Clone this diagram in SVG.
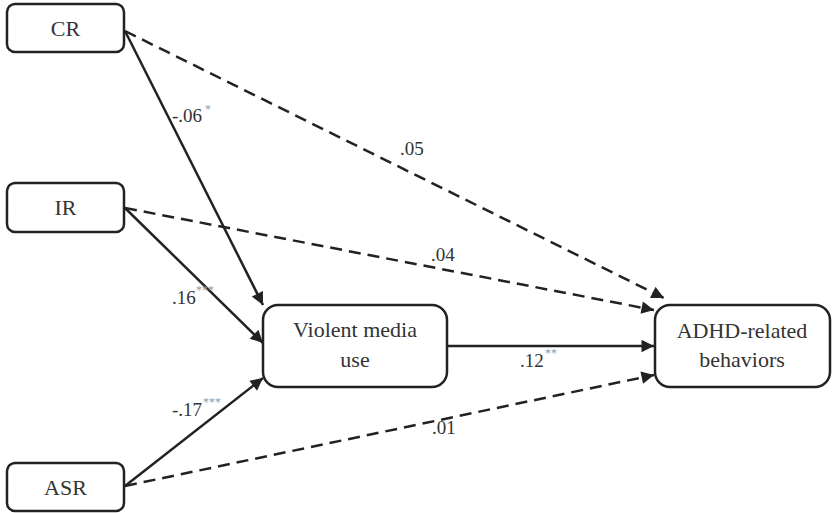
<svg xmlns="http://www.w3.org/2000/svg" width="833" height="513" viewBox="0 0 833 513">
<style>
.box{fill:#fff;stroke:#222;stroke-width:2.5}
.t{font-size:22px;fill:#333;text-anchor:middle}
.l{font-size:19px;fill:#333}
.s{font-size:12px;fill:#999}
.e{fill:none;stroke:#222;stroke-width:2.5}
.d{stroke-dasharray:12 7}
</style>
<defs>
<marker id="ah" viewBox="0 0 10 10" refX="10" refY="5" markerWidth="5.5" markerHeight="5" markerUnits="strokeWidth" orient="auto">
<path d="M0,0 L10,5 L0,10 z" fill="#222"/>
</marker>
</defs>
<g id="connectors">
<line class="e" x1="125" y1="31" x2="263" y2="305" marker-end="url(#ah)"/>
<line class="e" x1="125" y1="208" x2="263" y2="343" marker-end="url(#ah)"/>
<line class="e" x1="125" y1="486" x2="263" y2="378" marker-end="url(#ah)"/>
<line class="e" x1="447" y1="346" x2="654" y2="346" marker-end="url(#ah)"/>
<line class="e d" x1="125" y1="31" x2="664" y2="298" marker-end="url(#ah)"/>
<line class="e d" x1="125" y1="208" x2="654" y2="310" marker-end="url(#ah)"/>
<line class="e d" x1="125" y1="486" x2="654" y2="375" marker-end="url(#ah)"/>
</g>
<g font-family="'Liberation Serif', 'Times New Roman', Times, serif">
<g id="CR"><rect class="box" x="7" y="4" width="117" height="48" rx="8"/><text class="t" x="65.5" y="36">CR</text></g>
<g id="IR"><rect class="box" x="7" y="183" width="117" height="49" rx="8"/><text class="t" x="65.5" y="215">IR</text></g>
<g id="ASR"><rect class="box" x="7" y="463" width="117" height="48" rx="8"/><text class="t" x="65.5" y="495">ASR</text></g>
<g id="VMU"><rect class="box" x="263" y="305" width="184" height="82" rx="15"/><text class="t" x="355" y="337">Violent media</text><text class="t" x="355" y="367">use</text></g>
<g id="ADHD"><rect class="box" x="655" y="305" width="175" height="82" rx="15"/><text class="t" x="742" y="338">ADHD-related</text><text class="t" x="742" y="367">behaviors</text></g>
<g id="labels">
<text class="l" x="172" y="122">-.06</text><text class="s" x="205" y="113">*</text>
<text class="l" x="400" y="155">.05</text>
<text class="l" x="431" y="261">.04</text>
<text class="l" x="172" y="304">.16</text><text class="s" x="196" y="294">***</text>
<text class="l" x="172" y="416">-.17</text><text class="s" x="203" y="406">***</text>
<text class="l" x="520" y="367">.12</text><text class="s" x="545" y="357">**</text>
<text class="l" x="432" y="434">.01</text>
</g>
</g>
</svg>
